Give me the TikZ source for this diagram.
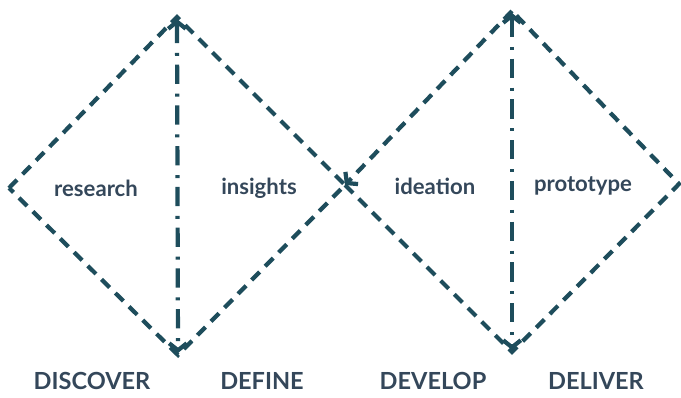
\documentclass[tikz,border=0pt]{standalone}
\usepackage{fontspec}
\setmainfont{Lato}
\usetikzlibrary{arrows.meta}
\definecolor{dteal}{HTML}{1E4D5C}
\definecolor{dslate}{HTML}{34475A}
\begin{document}
\begin{tikzpicture}[x=0.02cm,y=-0.02cm,
  barb/.tip={Straight Barb[length=4pt,width=10pt]},
  edge/.style={dteal,line width=2.4pt,dash pattern=on 6.5pt off 4.5pt},
  axis/.style={dteal,line width=2.4pt,dash pattern=on 11pt off 5.5pt on 1.7pt off 5pt},
  word/.style={text=dslate,font=\bfseries\fontsize{12.6}{14}\selectfont},
  phase/.style={text=dslate,font=\bfseries\fontsize{13.4}{15}\selectfont}]
\useasboundingbox (0,0) rectangle (681,397);
% corners of the two diamonds
\coordinate (west) at (9,188);
\coordinate (top1) at (177,17);
\coordinate (mid) at (345,185);
\coordinate (bot1) at (178,355);
\coordinate (top2) at (512,11);
\coordinate (east) at (679,184);
\coordinate (bot2) at (512,352);
\draw [edge] (west) -- (top1) -- (mid) -- (bot1) -- cycle;
\draw [edge] (mid) -- (bot2) -- (east) -- (top2);
\draw [edge,-{barb}] (top2) -- (mid);
% dividers
\draw [axis,{barb}-{barb}] (177,19) coordinate (a1) -- (178,353) coordinate (b1);
\draw [axis,{barb}-{barb}] (512,13) coordinate (a2) -- (512,350) coordinate (b2);
% labels
\node [word] (research) at (96,188) {research};
\node [word] (insights) at (259,188) {insights};
\node [word] (ideation) at (435,186) {ideation};
\node [word] (prototype) at (583,186) {prototype};
\node [phase] (discover) at (92,381) {DISCOVER};
\node [phase] (define) at (262,381) {DEFINE};
\node [phase] (develop) at (433,381) {DEVELOP};
\node [phase] (deliver) at (596,381) {DELIVER};
\end{tikzpicture}
\end{document}
